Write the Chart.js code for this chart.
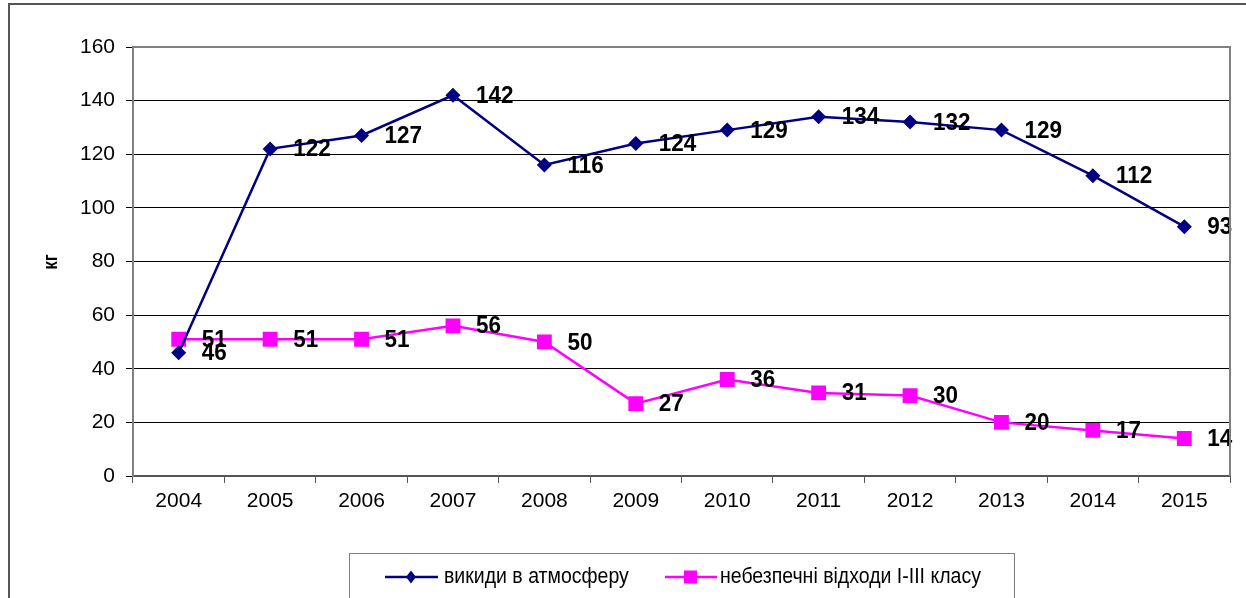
<!DOCTYPE html>
<html>
<head>
<meta charset="utf-8">
<script src="https://cdn.jsdelivr.net/npm/chart.js@4"></script>
<style>
  html, body { margin: 0; padding: 0; background: #fff; }
  canvas { display: block; }
</style>
</head>
<body>
<canvas id="chart" width="1246" height="598"></canvas>
<script>
// years and the two series
const years = ['2004', '2005', '2006', '2007', '2008', '2009', '2010', '2011', '2012', '2013', '2014', '2015'];
const emissions = [46, 122, 127, 142, 116, 124, 129, 134, 132, 129, 112, 93];
const hazardousWaste = [51, 51, 51, 56, 50, 27, 36, 31, 30, 20, 17, 14];
const seriesNames = ['викиди в атмосферу', 'небезпечні відходи І-ІІІ класу'];
const yTitle = 'кг';

const FONT = '"Liberation Sans", Arial, sans-serif';
const NAVY = '#000080';
const MAGENTA = '#FF00FF';
const STRETCH = 1.1; // text in the original is a bit taller than wide

const decor = {
  id: 'decor',
  beforeDraw(chart) {
    const ctx = chart.ctx;
    ctx.save();
    // outer frame, only top and left edges show
    ctx.strokeStyle = '#555';
    ctx.lineWidth = 2;
    ctx.beginPath();
    ctx.moveTo(9, 598);
    ctx.lineTo(9, 4);
    ctx.lineTo(1246, 4);
    ctx.stroke();
    ctx.restore();
  },
  afterDatasetsDraw(chart) {
    const ctx = chart.ctx;
    ctx.save();
    ctx.font = 'bold 22.5px ' + FONT;
    ctx.fillStyle = '#000';
    ctx.textAlign = 'left';
    ctx.textBaseline = 'middle';
    chart.data.datasets.forEach((ds, i) => {
      chart.getDatasetMeta(i).data.forEach((pt, j) => {
        ctx.save();
        ctx.translate(pt.x + 23, pt.y + 1);
        ctx.scale(1, 1.06);
        ctx.fillText(String(ds.data[j]), 0, 0);
        ctx.restore();
      });
    });
    ctx.restore();
  },
  afterDraw(chart) {
    const ctx = chart.ctx;
    const a = chart.chartArea;
    ctx.save();
    // plot border top and right
    ctx.strokeStyle = '#808080';
    ctx.lineWidth = 2;
    ctx.beginPath();
    ctx.moveTo(a.left, a.top);
    ctx.lineTo(a.right, a.top);
    ctx.lineTo(a.right, a.bottom);
    ctx.stroke();

    // y axis title
    ctx.save();
    ctx.translate(51, 262);
    ctx.rotate(-Math.PI / 2);
    ctx.scale(1, 1.2);
    ctx.font = 'bold 17px ' + FONT;
    ctx.fillStyle = '#000';
    ctx.textAlign = 'center';
    ctx.textBaseline = 'middle';
    ctx.fillText(yTitle, 0, 0);
    ctx.restore();

    // legend box
    ctx.strokeStyle = '#808080';
    ctx.lineWidth = 1;
    ctx.strokeRect(349.5, 553.5, 665, 60);
    const ly = 577;
    ctx.textBaseline = 'middle';
    ctx.textAlign = 'left';
    ctx.lineWidth = 2.5;

    ctx.strokeStyle = NAVY;
    ctx.beginPath();
    ctx.moveTo(385, ly);
    ctx.lineTo(438, ly);
    ctx.stroke();
    ctx.fillStyle = NAVY;
    ctx.beginPath();
    ctx.moveTo(411, ly - 6.5);
    ctx.lineTo(416, ly);
    ctx.lineTo(411, ly + 6.5);
    ctx.lineTo(406, ly);
    ctx.closePath();
    ctx.fill();

    ctx.strokeStyle = MAGENTA;
    ctx.beginPath();
    ctx.moveTo(665, ly);
    ctx.lineTo(717, ly);
    ctx.stroke();
    ctx.fillStyle = MAGENTA;
    ctx.fillRect(684, ly - 6.5, 13, 13);

    ctx.fillStyle = '#000';
    ctx.font = '19.5px ' + FONT;
    [[seriesNames[0], 444], [seriesNames[1], 720]].forEach(([t, x]) => {
      ctx.save();
      ctx.translate(x, ly);
      ctx.scale(1, STRETCH);
      ctx.fillText(t, 0, 0);
      ctx.restore();
    });
    ctx.restore();
  }
};

new Chart(document.getElementById('chart'), {
  type: 'line',
  data: {
    labels: years,
    datasets: [
      {
        label: seriesNames[0],
        data: emissions,
        borderColor: NAVY,
        backgroundColor: NAVY,
        borderWidth: 2.5,
        pointStyle: 'rectRot',
        pointRadius: 7.5,
        pointHoverRadius: 7.5,
        pointBorderWidth: 0,
        tension: 0
      },
      {
        label: seriesNames[1],
        data: hazardousWaste,
        borderColor: MAGENTA,
        backgroundColor: MAGENTA,
        borderWidth: 2.5,
        pointStyle: 'rect',
        pointRadius: 10.5,
        pointHoverRadius: 10.5,
        pointBorderWidth: 0,
        tension: 0
      }
    ]
  },
  options: {
    responsive: false,
    animation: false,
    layout: { padding: { left: 0, top: 47, right: 16, bottom: 0 } },
    plugins: {
      legend: { display: false },
      tooltip: { enabled: false }
    },
    scales: {
      x: {
        offset: true,
        grid: { offset: true, drawOnChartArea: false, tickLength: 7, color: '#555', lineWidth: 1 },
        border: { color: '#555', width: 2 },
        ticks: { color: '#000', font: { family: FONT, size: 21 }, padding: 6, maxRotation: 0 },
        afterFit(scale) { scale.height = 122; }
      },
      y: {
        min: 0,
        max: 160,
        grid: { color: '#000', lineWidth: 1, tickLength: 7 },
        border: { color: '#808080', width: 2 },
        ticks: { stepSize: 20, color: '#000', font: { family: FONT, size: 21 }, padding: 11 },
        afterFit(scale) { scale.width = 133; }
      }
    }
  },
  plugins: [decor]
});
</script>
</body>
</html>
